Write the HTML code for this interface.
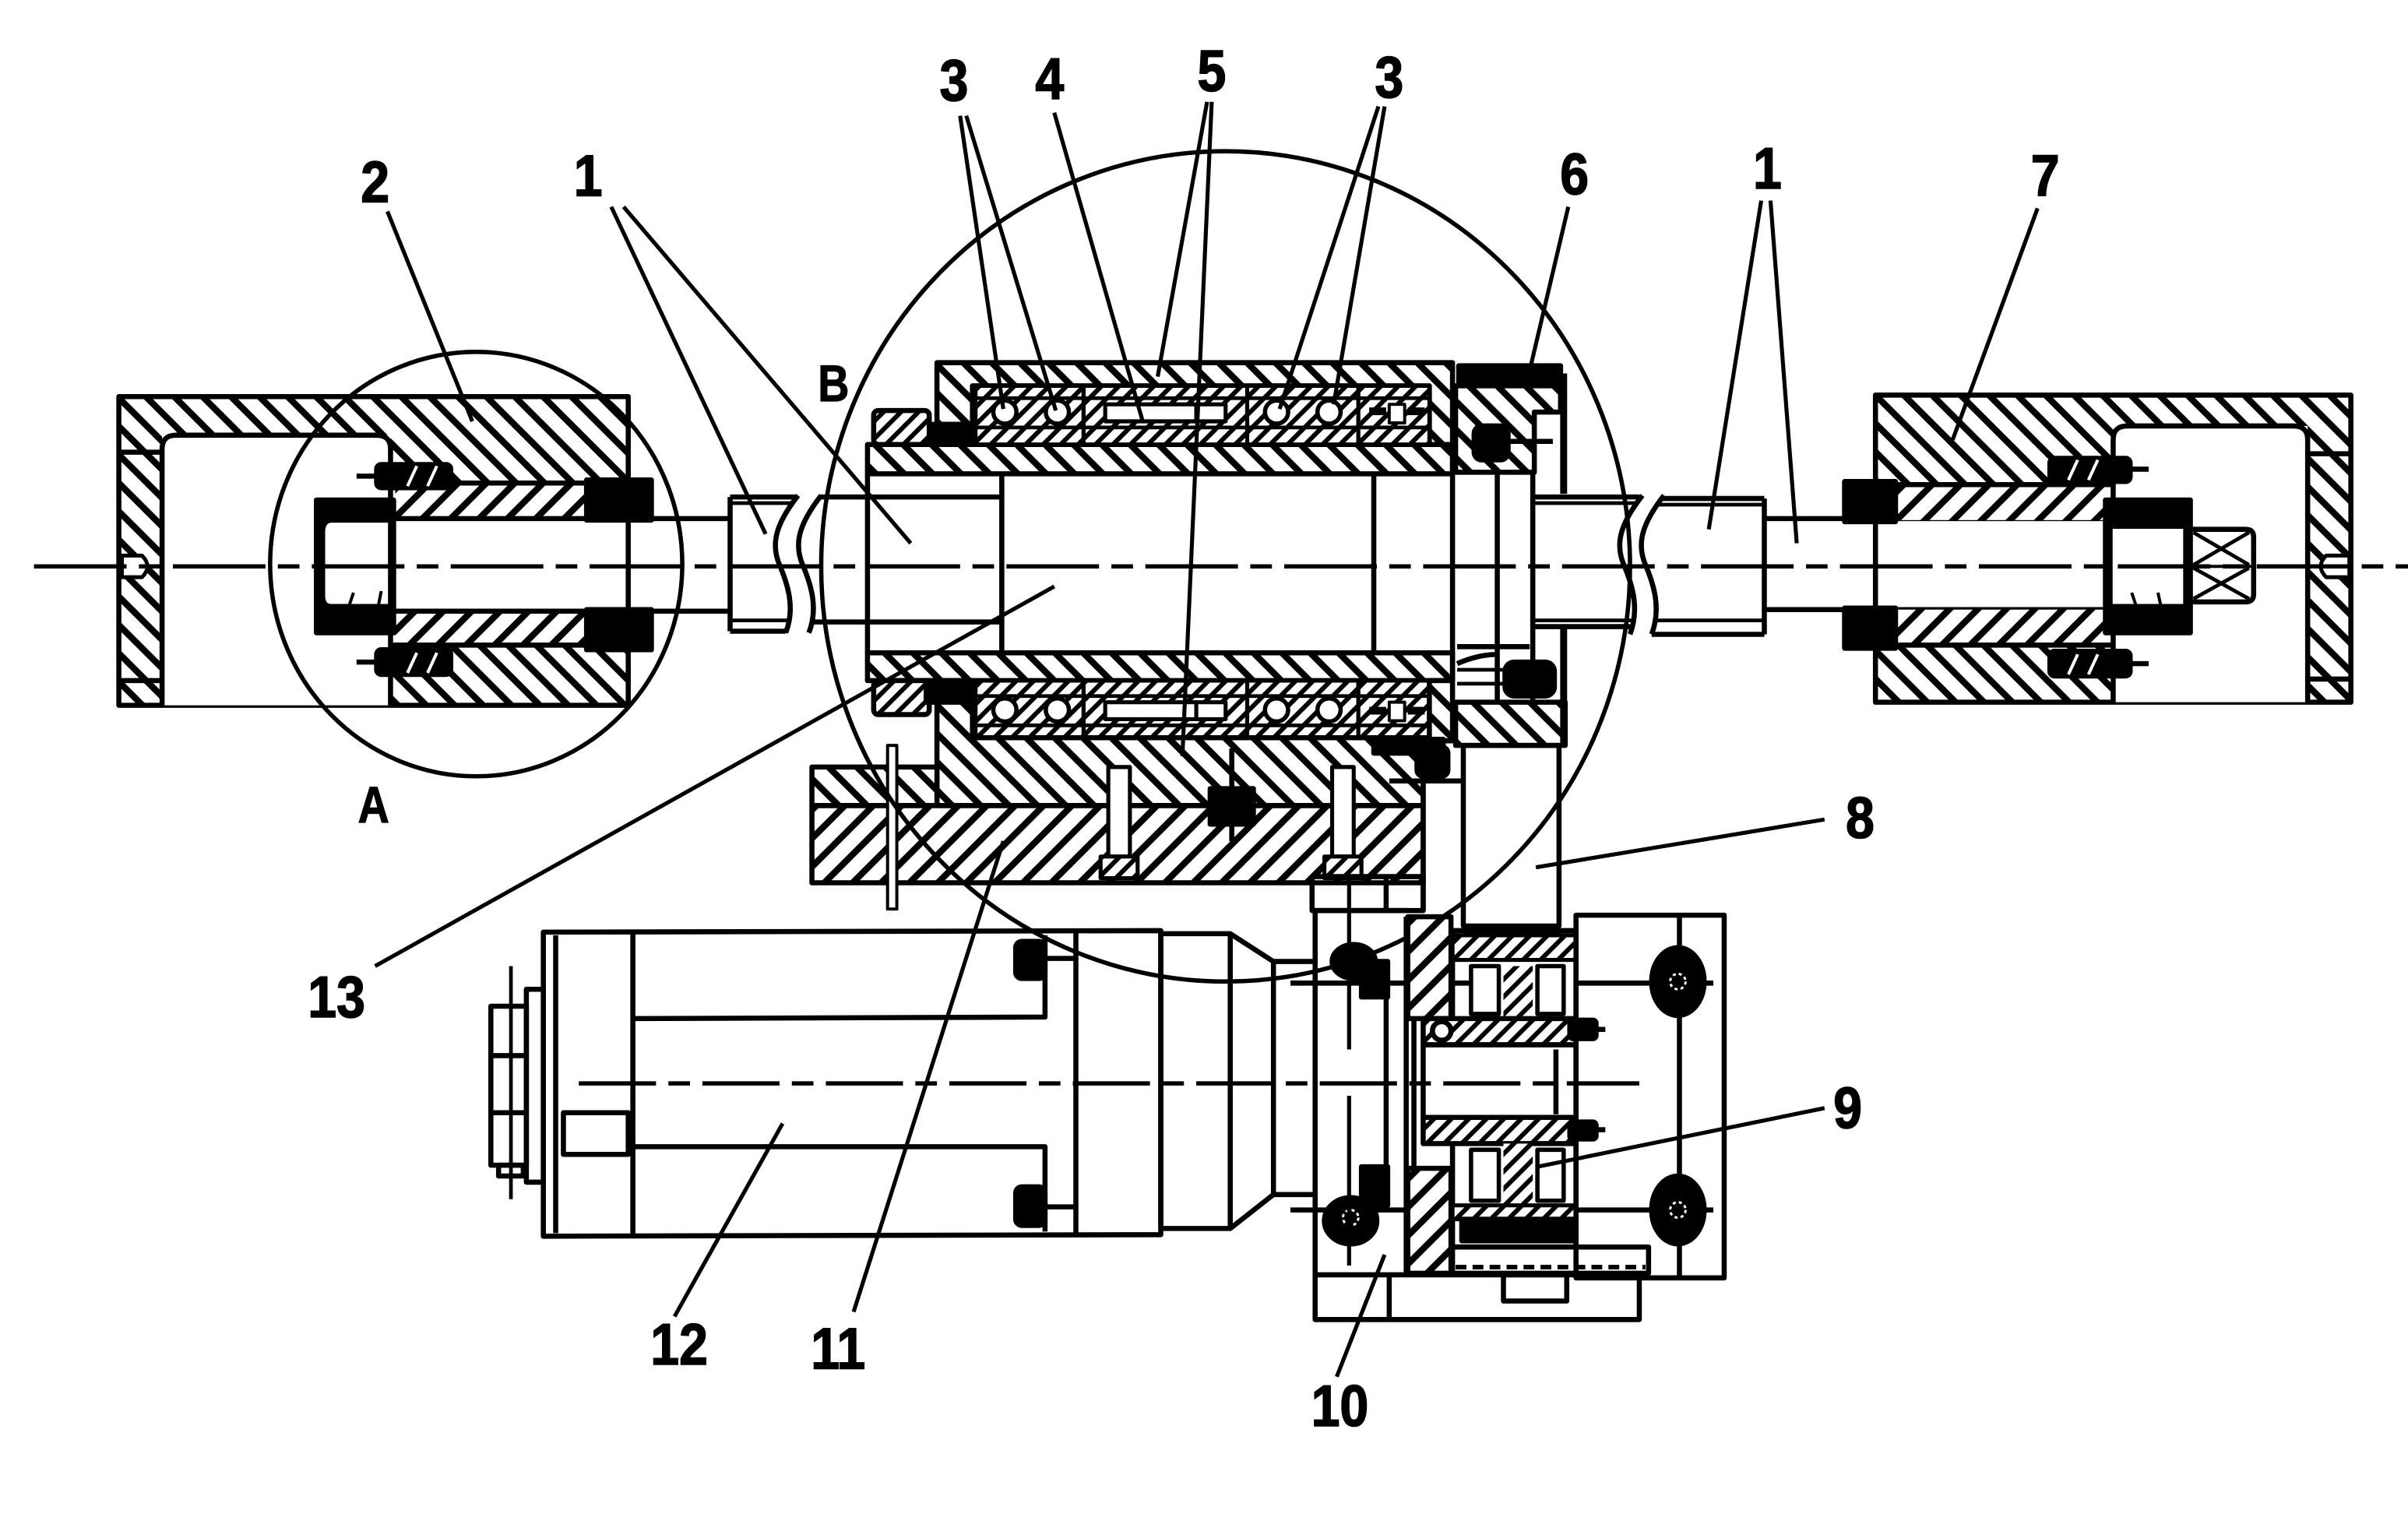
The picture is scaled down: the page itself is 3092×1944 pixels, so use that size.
<!DOCTYPE html>
<html><head><meta charset="utf-8">
<style>
html,body{margin:0;padding:0;background:#fff;}
svg{display:block;}
text{font-family:"Liberation Sans",Arial,sans-serif;font-weight:bold;fill:#000;}
</style></head>
<body>
<svg xmlns="http://www.w3.org/2000/svg" width="3092" height="1944" viewBox="0 0 1560 981" preserveAspectRatio="none">
<defs>
<pattern id="hb" patternUnits="userSpaceOnUse" width="13" height="13" patternTransform="rotate(-45)"><rect width="13" height="13" fill="#fff"/><rect width="4.2" height="13" fill="#000"/></pattern>
<pattern id="hf" patternUnits="userSpaceOnUse" width="13" height="13" patternTransform="rotate(45)"><rect width="13" height="13" fill="#fff"/><rect width="4.2" height="13" fill="#000"/></pattern>
<pattern id="sb" patternUnits="userSpaceOnUse" width="8" height="8" patternTransform="rotate(-45)"><rect width="8" height="8" fill="#fff"/><rect width="3" height="8" fill="#000"/></pattern>
<pattern id="sf" patternUnits="userSpaceOnUse" width="8" height="8" patternTransform="rotate(45)"><rect width="8" height="8" fill="#fff"/><rect width="3" height="8" fill="#000"/></pattern>
</defs>
<rect width="1560" height="981" fill="#fff"/>

<g stroke="#000" stroke-width="3.3" fill="none" stroke-linejoin="round">

<!-- ================= LEFT HOUSING (2) ================= -->
<rect x="77" y="257" width="176" height="25" fill="url(#hb)" stroke="none"/>
<rect x="77" y="282" width="28" height="175" fill="url(#hb)" stroke="none"/>
<rect x="253" y="257" width="154" height="56" fill="url(#hb)" stroke="none"/>
<rect x="253" y="418" width="154" height="39" fill="url(#hb)" stroke="none"/>
<rect x="256" y="313" width="126" height="23" fill="url(#hf)" stroke="none"/>
<rect x="256" y="396" width="126" height="22" fill="url(#hf)" stroke="none"/>
<rect x="77" y="257" width="330" height="200"/>
<path d="M105,457 V291 Q105,282 114,282 H244 Q253,282 253,291 V457" fill="#fff"/>
<line x1="77" y1="293" x2="105" y2="293"/>
<line x1="77" y1="441" x2="105" y2="441"/>
<path d="M79,360 H92 Q99,367 92,374 H79 Z" fill="#fff" stroke-width="2.5"/>
<line x1="253" y1="313" x2="407" y2="313"/>
<line x1="253" y1="418" x2="407" y2="418"/>
<rect x="380" y="311" width="42" height="26" fill="#000"/>
<rect x="380" y="395" width="42" height="26" fill="#000"/>
<line x1="253" y1="336" x2="473" y2="336"/>
<line x1="253" y1="396" x2="473" y2="396"/>
<rect x="205" y="324" width="50" height="86" fill="#000"/>
<path d="M253,337 H215 Q209,337 209,345 V386 Q209,393 215,393 H253 Z" fill="#fff"/>
<line x1="226" y1="393" x2="229" y2="384" stroke-width="2"/>
<line x1="245" y1="393" x2="247" y2="383" stroke-width="2"/>
<rect x="244" y="301" width="48" height="15" rx="3" fill="#000"/>
<line x1="231" y1="308.5" x2="244" y2="308.5"/>
<line x1="264" y1="315" x2="270" y2="302" stroke="#fff" stroke-width="2"/>
<line x1="277" y1="315" x2="283" y2="302" stroke="#fff" stroke-width="2"/>
<rect x="244" y="421" width="48" height="16" rx="3" fill="#000"/>
<line x1="231" y1="429" x2="244" y2="429"/>
<line x1="264" y1="436" x2="270" y2="423" stroke="#fff" stroke-width="2"/>
<line x1="277" y1="436" x2="283" y2="423" stroke="#fff" stroke-width="2"/>

<!-- left tube (1) -->
<line x1="473" y1="322" x2="473" y2="409"/>
<line x1="473" y1="322" x2="516" y2="322"/>
<line x1="473" y1="326" x2="513" y2="326" stroke-width="2.4"/>
<line x1="473" y1="402" x2="511" y2="402" stroke-width="2.4"/>
<line x1="473" y1="409" x2="509" y2="409"/>
<path d="M517,321 C503,339 499,352 505,366 C511,380 515,395 509,410"/>
<path d="M532,321 C518,339 514,352 520,366 C526,380 530,395 524,410"/>
<line x1="531" y1="322" x2="649" y2="322"/>
<line x1="527" y1="403" x2="649" y2="403"/>

<ellipse cx="308.5" cy="365.5" rx="133.5" ry="137.5" stroke-width="2.8"/>

<!-- ================= CENTER ASSEMBLY ================= -->
<polygon points="607,235 941,235 941,288 926,288 926,250 630,250 630,275 607,275" fill="url(#hb)"/>
<rect x="600" y="275" width="30" height="13" fill="#000"/>
<rect x="566" y="266" width="36" height="22" rx="3" fill="url(#sf)"/>
<rect x="562" y="288" width="379" height="19" fill="url(#hb)"/>
<rect x="562" y="423" width="379" height="18" fill="url(#hb)"/>
<line x1="562" y1="307" x2="562" y2="423"/>
<rect x="566" y="441" width="36" height="22" rx="3" fill="url(#sf)"/>
<rect x="600" y="441" width="30" height="14" fill="#000"/>

<!-- upper bearings -->
<rect x="632" y="250" width="70" height="38" fill="url(#sf)" stroke-width="2.6"/>
<rect x="702" y="250" width="106" height="38" fill="url(#sf)" stroke-width="2.6"/>
<rect x="808" y="250" width="72" height="38" fill="url(#sf)" stroke-width="2.6"/>
<rect x="880" y="250" width="46" height="38" fill="url(#sf)" stroke-width="2.6"/>
<line x1="632" y1="258" x2="926" y2="258" stroke-width="2.4"/>
<line x1="632" y1="277" x2="926" y2="277" stroke-width="2.4"/>
<rect x="716" y="262" width="78" height="11" fill="#fff" stroke-width="2.6"/>
<line x1="775" y1="262" x2="775" y2="273" stroke-width="2.6"/>
<circle cx="651" cy="267" r="7.5" fill="#fff" stroke-width="2.8"/>
<circle cx="685" cy="267" r="7.5" fill="#fff" stroke-width="2.8"/>
<circle cx="827" cy="267" r="7.5" fill="#fff" stroke-width="2.8"/>
<circle cx="861" cy="267" r="7.5" fill="#fff" stroke-width="2.8"/>
<rect x="900" y="262" width="10" height="12" fill="#fff" stroke-width="2"/>
<rect x="887" y="264" width="11" height="5" fill="#000" stroke="none"/>
<rect x="912" y="264" width="11" height="5" fill="#000" stroke="none"/>

<!-- lower bearings -->
<rect x="632" y="441" width="70" height="37" fill="url(#sf)" stroke-width="2.6"/>
<rect x="702" y="441" width="106" height="37" fill="url(#sf)" stroke-width="2.6"/>
<rect x="808" y="441" width="72" height="37" fill="url(#sf)" stroke-width="2.6"/>
<rect x="880" y="441" width="46" height="37" fill="url(#sf)" stroke-width="2.6"/>
<line x1="632" y1="451" x2="926" y2="451" stroke-width="2.4"/>
<line x1="632" y1="470" x2="926" y2="470" stroke-width="2.4"/>
<rect x="716" y="455" width="78" height="11" fill="#fff" stroke-width="2.6"/>
<line x1="775" y1="455" x2="775" y2="466" stroke-width="2.6"/>
<circle cx="651" cy="460" r="7.5" fill="#fff" stroke-width="2.8"/>
<circle cx="685" cy="460" r="7.5" fill="#fff" stroke-width="2.8"/>
<circle cx="827" cy="460" r="7.5" fill="#fff" stroke-width="2.8"/>
<circle cx="861" cy="460" r="7.5" fill="#fff" stroke-width="2.8"/>
<rect x="900" y="455" width="10" height="12" fill="#fff" stroke-width="2"/>
<rect x="887" y="458" width="11" height="5" fill="#000" stroke="none"/>
<rect x="912" y="458" width="11" height="5" fill="#000" stroke="none"/>

<polygon points="607,455 630,455 630,478 926,478 926,441 941,441 941,480 922,480 922,522 607,522" fill="url(#hb)"/>
<rect x="526" y="497" width="81" height="25" fill="url(#hb)"/>
<rect x="526" y="522" width="396" height="50" fill="url(#hf)"/>
<rect x="575" y="483" width="6" height="106" fill="#fff" stroke-width="2"/>
<rect x="718" y="497" width="14" height="58" fill="#fff" stroke-width="2.6"/>
<rect x="713" y="555" width="24" height="14" fill="url(#sf)" stroke-width="2.6"/>
<rect x="863" y="497" width="14" height="58" fill="#fff" stroke-width="2.6"/>
<rect x="858" y="555" width="24" height="14" fill="url(#sf)" stroke-width="2.6"/>
<rect x="784" y="511" width="28" height="23" fill="#000"/>
<line x1="798" y1="485" x2="798" y2="545"/>
<rect x="890" y="479" width="45" height="9" fill="#000"/>
<rect x="918" y="484" width="20" height="19" rx="4" fill="#000"/>

<line x1="649" y1="307" x2="649" y2="423"/>
<line x1="890" y1="307" x2="890" y2="423"/>
<line x1="941" y1="288" x2="941" y2="441"/>
<path d="M944,300 Q958,306 970,306"/>
<path d="M944,430 Q958,424 970,424"/>
<line x1="970" y1="306" x2="970" y2="466"/>
<line x1="993" y1="306" x2="993" y2="466"/>

<!-- cover 6 -->
<rect x="945" y="237" width="66" height="13" fill="#000"/>
<polygon points="943,250 1011,250 1011,267 994,267 994,306 943,306" fill="url(#hb)"/>
<line x1="1013" y1="242" x2="1013" y2="320" stroke-width="4.5"/>
<line x1="977" y1="286" x2="1006" y2="286"/>
<rect x="955" y="276" width="22" height="22" rx="5" fill="#000"/>
<rect x="943" y="455" width="71" height="28" fill="url(#hb)"/>
<line x1="944" y1="419" x2="991" y2="419"/>
<line x1="944" y1="434" x2="975" y2="434" stroke-width="2.4"/>
<line x1="944" y1="443" x2="975" y2="443" stroke-width="2.4"/>
<rect x="975" y="429" width="32" height="22" rx="6" fill="#000"/>
<line x1="1013" y1="406" x2="1013" y2="483" stroke-width="4.5"/>

<!-- right shaft -->
<line x1="994" y1="322" x2="1062" y2="322"/>
<line x1="994" y1="326" x2="1060" y2="326" stroke-width="2.4"/>
<line x1="994" y1="402" x2="1058" y2="402" stroke-width="2.4"/>
<line x1="994" y1="406" x2="1056" y2="406"/>
<path d="M1064,321 C1050,339 1046,352 1052,366 C1058,380 1062,395 1056,411"/>
<path d="M1078,321 C1064,339 1060,352 1066,366 C1072,380 1076,395 1070,411"/>
<line x1="1076" y1="323" x2="1143" y2="323"/>
<line x1="1074" y1="327" x2="1143" y2="327" stroke-width="2.4"/>
<line x1="1072" y1="402" x2="1143" y2="402" stroke-width="2.4"/>
<line x1="1070" y1="411" x2="1143" y2="411"/>
<line x1="1143" y1="323" x2="1143" y2="411"/>
<line x1="1143" y1="336" x2="1364" y2="336"/>
<line x1="1143" y1="395" x2="1364" y2="395"/>

<!-- bracket 8 -->
<rect x="948" y="483" width="62" height="117"/>
<line x1="948" y1="604" x2="1010" y2="604"/>
<line x1="922" y1="506" x2="922" y2="590"/>
<line x1="900" y1="506" x2="948" y2="506"/>

<ellipse cx="794" cy="367" rx="262" ry="269" stroke-width="2.8"/>

<!-- ================= RIGHT HOUSING (7) ================= -->
<rect x="1215" y="256" width="154" height="58" fill="url(#hb)" stroke="none"/>
<rect x="1369" y="256" width="154" height="20" fill="url(#hb)" stroke="none"/>
<rect x="1495" y="276" width="28" height="179" fill="url(#hb)" stroke="none"/>
<rect x="1215" y="418" width="154" height="37" fill="url(#hb)" stroke="none"/>
<rect x="1228" y="314" width="141" height="23" fill="url(#hf)" stroke="none"/>
<rect x="1228" y="395" width="141" height="23" fill="url(#hf)" stroke="none"/>
<rect x="1215" y="256" width="308" height="199"/>
<path d="M1369,455 V285 Q1369,276 1378,276 H1486 Q1495,276 1495,285 V455" fill="#fff"/>
<line x1="1495" y1="294" x2="1523" y2="294"/>
<line x1="1495" y1="440" x2="1523" y2="440"/>
<path d="M1522,360 H1507 Q1500,367 1507,374 H1522 Z" fill="#fff" stroke-width="2.5"/>
<line x1="1215" y1="314" x2="1369" y2="314"/>
<line x1="1215" y1="418" x2="1369" y2="418"/>
<rect x="1195" y="312" width="33" height="26" fill="#000"/>
<rect x="1195" y="394" width="33" height="26" fill="#000"/>
<rect x="1328" y="297" width="52" height="15" rx="3" fill="#000"/>
<line x1="1380" y1="304" x2="1392" y2="304"/>
<line x1="1340" y1="311" x2="1346" y2="298" stroke="#fff" stroke-width="2"/>
<line x1="1353" y1="311" x2="1359" y2="298" stroke="#fff" stroke-width="2"/>
<rect x="1328" y="422" width="52" height="16" rx="3" fill="#000"/>
<line x1="1380" y1="430" x2="1392" y2="430"/>
<line x1="1340" y1="437" x2="1346" y2="424" stroke="#fff" stroke-width="2"/>
<line x1="1353" y1="437" x2="1359" y2="424" stroke="#fff" stroke-width="2"/>
<rect x="1364" y="324" width="55" height="86" fill="#000"/>
<rect x="1367" y="341" width="49" height="52" fill="#fff"/>
<line x1="1384" y1="393" x2="1381" y2="384" stroke-width="2"/>
<line x1="1400" y1="393" x2="1398" y2="384" stroke-width="2"/>
<path d="M1419,343 H1455 Q1460,343 1460,348 V385 Q1460,390 1455,390 H1419 Z" fill="#fff"/>
<line x1="1421" y1="345" x2="1457" y2="366" stroke-width="2.4"/>
<line x1="1457" y1="345" x2="1421" y2="366" stroke-width="2.4"/>
<line x1="1421" y1="368" x2="1457" y2="388" stroke-width="2.4"/>
<line x1="1457" y1="368" x2="1421" y2="388" stroke-width="2.4"/>
<line x1="1419" y1="367" x2="1460" y2="367" stroke-width="2"/>

<!-- ================= MOTOR (12) ================= -->
<path d="M352,604 L752,603 L752,800 L352,801 Z"/>
<line x1="360" y1="606" x2="360" y2="799"/>
<line x1="410" y1="604" x2="410" y2="801"/>
<path d="M410,660 L677,659 L677,606"/>
<path d="M410,743 L677,743 L677,798"/>
<line x1="697" y1="603" x2="697" y2="800"/>
<rect x="658" y="610" width="19" height="24" rx="4" fill="#000"/>
<rect x="658" y="769" width="19" height="25" rx="4" fill="#000"/>
<line x1="677" y1="621" x2="697" y2="621"/>
<line x1="677" y1="782" x2="697" y2="782"/>
<rect x="752" y="605" width="45" height="191"/>
<path d="M797,605 L825,623 L852,623"/>
<path d="M797,796 L825,774 L852,774"/>
<line x1="825" y1="623" x2="825" y2="774"/>
<rect x="341" y="641" width="11" height="125"/>
<rect x="318" y="652" width="23" height="103"/>
<line x1="318" y1="684" x2="341" y2="684"/>
<line x1="318" y1="721" x2="341" y2="721"/>
<rect x="323" y="755" width="16" height="7"/>
<line x1="331" y1="626" x2="331" y2="777" stroke-width="2.4"/>
<rect x="365" y="721" width="42" height="27"/>

<!-- ================= GEARBOX (10) ================= -->
<rect x="850" y="568" width="72" height="22"/>
<line x1="898" y1="568" x2="898" y2="590"/>
<line x1="852" y1="590" x2="852" y2="826"/>
<line x1="852" y1="590" x2="912" y2="590"/>
<line x1="852" y1="826" x2="1062" y2="826"/>
<line x1="836" y1="637" x2="957" y2="637"/>
<line x1="836" y1="784" x2="930" y2="784"/>
<rect x="882" y="623" width="17" height="23" fill="#000"/>
<rect x="882" y="756" width="17" height="25" fill="#000"/>
<line x1="898" y1="623" x2="898" y2="781"/>
<line x1="911" y1="594" x2="911" y2="825"/>
<line x1="916" y1="660" x2="916" y2="757"/>
<ellipse cx="877" cy="623" rx="14" ry="11" fill="#000"/>
<ellipse cx="875" cy="791" rx="17" ry="15" fill="#000"/>
<circle cx="875" cy="789" r="5" stroke="#fff" stroke-width="1.5" stroke-dasharray="2 2"/>
<rect x="912" y="594" width="28" height="66" fill="url(#hf)"/>
<rect x="912" y="757" width="28" height="68" fill="url(#hf)"/>
<rect x="941" y="603" width="80" height="205"/>
<rect x="941" y="606" width="80" height="16" fill="url(#sf)" stroke-width="2.6"/>
<rect x="953" y="626" width="18" height="31" fill="#fff" stroke-width="2.8"/>
<rect x="996" y="626" width="17" height="31" fill="#fff" stroke-width="2.8"/>
<rect x="974" y="626" width="19" height="34" fill="url(#sf)" stroke="none"/>
<rect x="922" y="660" width="99" height="17" fill="url(#sf)"/>
<circle cx="934" cy="668" r="6" fill="#fff"/>
<rect x="922" y="677" width="99" height="47" fill="#fff"/>
<line x1="1008" y1="680" x2="1008" y2="722"/>
<rect x="922" y="724" width="99" height="17" fill="url(#sf)"/>
<rect x="974" y="741" width="19" height="40" fill="url(#sf)" stroke="none"/>
<rect x="953" y="745" width="18" height="33" fill="#fff" stroke-width="2.8"/>
<rect x="996" y="745" width="17" height="33" fill="#fff" stroke-width="2.8"/>
<rect x="941" y="781" width="80" height="9" fill="url(#sf)" stroke-width="2.6"/>
<rect x="947" y="790" width="72" height="14" fill="#000"/>
<rect x="941" y="808" width="127" height="17"/>
<line x1="943" y1="821" x2="1066" y2="821" stroke-width="3" stroke-dasharray="7 4"/>
<rect x="1017" y="661" width="17" height="12" rx="2" fill="#000"/>
<rect x="1017" y="727" width="17" height="11" rx="2" fill="#000"/>
<line x1="1034" y1="667" x2="1040" y2="667"/>
<line x1="1034" y1="732" x2="1040" y2="732"/>
<rect x="1021" y="593" width="96" height="235"/>
<line x1="1088" y1="593" x2="1088" y2="828"/>
<line x1="1021" y1="637" x2="1110" y2="637"/>
<line x1="1021" y1="784" x2="1110" y2="784"/>
<ellipse cx="1087" cy="636" rx="17" ry="22" fill="#000"/>
<ellipse cx="1087" cy="784" rx="17" ry="22" fill="#000"/>
<circle cx="1087" cy="636" r="5" stroke="#fff" stroke-width="1.5" stroke-dasharray="2 2"/>
<circle cx="1087" cy="784" r="5" stroke="#fff" stroke-width="1.5" stroke-dasharray="2 2"/>
<rect x="852" y="826" width="210" height="29"/>
<line x1="900" y1="826" x2="900" y2="855"/>
<rect x="974" y="826" width="41" height="17"/>

<!-- center lines -->
<line x1="22" y1="367" x2="1560" y2="367" stroke-width="2.8" stroke-dasharray="60 8 14 8"/>
<line x1="375" y1="702" x2="1062" y2="702" stroke-width="2.8" stroke-dasharray="50 8 14 8"/>
<line x1="874" y1="570" x2="874" y2="826" stroke-width="2.6" stroke-dasharray="110 30 110"/>

<!-- ================= LEADERS ================= -->
<g stroke-width="2.6">
<line x1="251" y1="137" x2="306" y2="273"/>
<line x1="396" y1="134" x2="496" y2="346"/>
<line x1="404" y1="134" x2="590" y2="352"/>
<line x1="243" y1="626" x2="683" y2="380"/>
<line x1="622" y1="75" x2="650" y2="265"/>
<line x1="626" y1="75" x2="684" y2="266"/>
<line x1="683" y1="73" x2="740" y2="272"/>
<line x1="782" y1="66" x2="750" y2="244"/>
<line x1="785" y1="66" x2="766" y2="490"/>
<line x1="893" y1="69" x2="829" y2="265"/>
<line x1="897" y1="69" x2="864" y2="262"/>
<line x1="1016" y1="134" x2="991" y2="240"/>
<line x1="1141" y1="130" x2="1107" y2="343"/>
<line x1="1147" y1="130" x2="1164" y2="352"/>
<line x1="1320" y1="135" x2="1265" y2="285"/>
<line x1="1182" y1="531" x2="995" y2="562"/>
<line x1="1182" y1="718" x2="996" y2="756"/>
<line x1="866" y1="892" x2="897" y2="813"/>
<line x1="553" y1="850" x2="650" y2="545"/>
<line x1="437" y1="853" x2="507" y2="728"/>
</g>
</g>

<!-- ================= LABELS ================= -->
<g font-size="38" text-anchor="middle" stroke="#000" stroke-width="0.8">
<text transform="translate(243,131) scale(0.88,1)">2</text>
<text transform="translate(381,127) scale(0.88,1)">1</text>
<text transform="translate(618,65) scale(0.88,1)">3</text>
<text transform="translate(680,64) scale(0.88,1)">4</text>
<text transform="translate(785,59) scale(0.88,1)">5</text>
<text transform="translate(900,63) scale(0.88,1)">3</text>
<text transform="translate(1020,126) scale(0.88,1)">6</text>
<text transform="translate(1145,122) scale(0.88,1)">1</text>
<text transform="translate(1325,127) scale(0.88,1)">7</text>
<text transform="translate(218,659) scale(0.88,1)">13</text>
<text transform="translate(1205,543) scale(0.88,1)">8</text>
<text transform="translate(1197,731) scale(0.88,1)">9</text>
<text transform="translate(440,884) scale(0.88,1)">12</text>
<text transform="translate(543,887) scale(0.88,1)">11</text>
<text transform="translate(868,924) scale(0.88,1)">10</text>
</g>
<g font-size="33" text-anchor="middle" stroke="#000" stroke-width="0.6">
<text transform="translate(540,260) scale(0.85,1)">B</text>
<text transform="translate(242,533) scale(0.85,1)">A</text>
</g>
</svg>
</body></html>
